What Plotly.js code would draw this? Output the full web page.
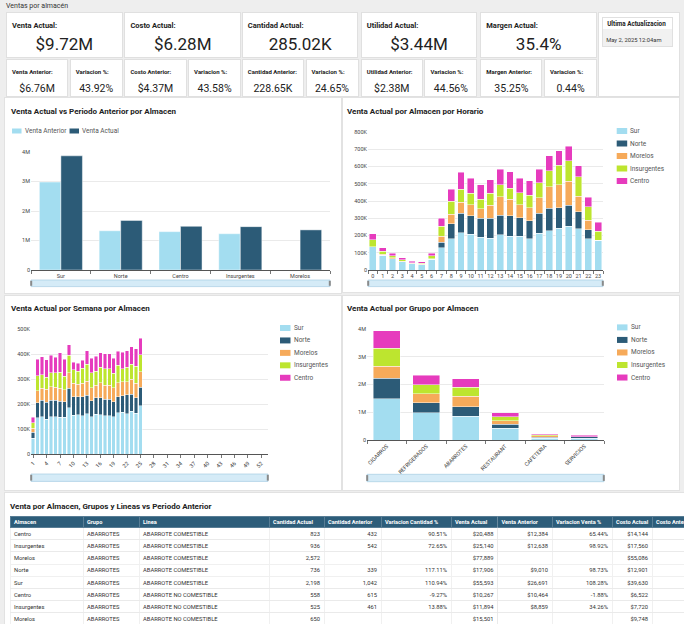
<!DOCTYPE html>
<html><head><meta charset="utf-8">
<script src="https://cdn.plot.ly/plotly-3.0.1.min.js"></script>
<style>
html,body{margin:0;padding:0;width:684px;height:624px;overflow:hidden;background:#eeeeee;font-family:Roboto,"Open Sans",sans-serif;color:#222;}
.card{position:absolute;background:#fff;border:1px solid #e0e0e0;box-sizing:border-box;}
.lbl{position:absolute;left:5px;font-weight:700;white-space:nowrap;color:#222;}
.val{position:absolute;left:0;right:0;text-align:center;white-space:nowrap;color:#222;}
.chart{position:absolute;background:#fff;box-shadow:0 0 0 1px #e2e2e2;}
</style></head><body>
<div id="page"></div>
<div id="c1" class="chart" style="left:5px;top:98px;width:336px;height:195px;"></div>
<div id="c2" class="chart" style="left:343px;top:98px;width:336px;height:194px;"></div>
<div id="c3" class="chart" style="left:5px;top:296px;width:336px;height:194px;"></div>
<div id="c4" class="chart" style="left:343px;top:296px;width:336px;height:194px;"></div>
<div class="chart" style="left:5px;top:493px;width:750px;height:135px;overflow:hidden;">
  <div id="c5" style="position:absolute;left:0;top:0;width:1500px;height:270px;transform:scale(0.5);transform-origin:0 0;"></div>
</div>
<script>
// ---------------- DATA ----------------
const pageTitle = 'Ventas por almacén';
const kpiLabels = ['Venta Actual:','Costo Actual:','Cantidad Actual:','Utilidad Actual:','Margen Actual:'];
const kpiValues = ['$9.72M','$6.28M','285.02K','$3.44M','35.4%'];
const prevLabels = ['Venta Anterior:','Costo Anterior:','Cantidad Anterior:','Utilidad Anterior:','Margen Anterior:'];
const prevValues = ['$6.76M','$4.37M','228.65K','$2.38M','35.25%'];
const varLabel = 'Variacion %:';
const varValues = ['43.92%','43.58%','24.65%','44.56%','0.44%'];
const updateLabel = 'Ultima Actualizacion';
const updateValue = 'May 2, 2025 12:04am';

const almacenes = ['Sur','Norte','Centro','Insurgentes','Morelos'];
const ventaAnterior = [2.98,1.33,1.30,1.23,null];   // M
const ventaActual   = [3.87,1.68,1.48,1.47,1.36];   // M
const yTicksM = [0,1,2,3,4];
const yTicksMText = ['0','1M','2M','3M','4M'];

const seriesNames = ['Sur','Norte','Morelos','Insurgentes','Centro'];

const hours = ['0','1','2','3','4','5','6','7','8','9','10','11','12','13','14','15','16','17','18','19','20','21','22','23'];
const horaSur         = [135,86,65,48,35,30,61,130,181,217,206,190,185,204,196,196,181,213,229,242,255,238,181,173];
const horaNorte       = [0,0,0,0,0,0,0,32,86,113,108,109,116,114,118,107,105,115,129,120,120,101,53,0];
const horaMorelos     = [0,5,5,4,3,4,3,34,57,64,65,57,74,107,96,76,76,91,124,131,139,90,54,0];
const horaInsurgentes = [40,18,12,8,4,6,18,57,76,75,67,54,69,70,64,69,70,86,93,115,120,112,78,53];
const horaCentro      = [35,20,16,12,8,8,15,48,69,97,87,85,80,88,96,83,84,80,88,82,84,63,57,51];
const yTicksHora = [0,100,200,300,400,500,600,700,800];
const yTicksHoraText = ['0','100K','200K','300K','400K','500K','600K','700K','800K'];

const semanas = [1,2,3,4,5,6,7,8,9,10,11,12,13,14,15,16,17,18,19,20,21,22,23,24,25];
const semSur         = [63,145,150,140,150,150,147,148,186,156,158,153,162,149,159,157,154,153,150,165,167,161,172,163,194];
const semNorte       = [24,61,66,68,66,66,65,62,78,74,71,76,74,64,66,69,66,66,60,65,66,77,68,63,73];
const semMorelos     = [16,48,47,52,53,51,51,47,62,53,50,54,56,52,51,59,56,57,55,55,56,51,59,58,63];
const semInsurgentes = [22,60,54,48,56,58,65,55,69,54,53,61,68,60,56,63,65,65,59,71,52,58,61,68,68];
const semCentro      = [23,65,72,69,70,62,78,68,43,31,32,31,54,58,60,58,60,61,60,55,66,67,69,70,66];
const semTickVals = [1,4,7,10,13,16,19,22,25,28,31,34,37,40,43,46,49,52];
const yTicksSem = [0,100,200,300,400,500];
const yTicksSemText = ['0','100K','200K','300K','400K','500K'];

const grupos = ['CIGARROS','REFRIGERADOS','ABARROTES','RESTAURANT','CAFETERIA','SERVICIOS'];
const grpSur         = [1.49,0.99,0.86,0.43,0.07,0.07];
const grpNorte       = [0.74,0.35,0.34,0.14,0.03,0.05];
const grpMorelos     = [0.43,0.33,0.38,0.12,0.05,0];
const grpInsurgentes = [0.65,0.33,0.32,0.15,0.04,0];
const grpCentro      = [0.63,0.33,0.30,0.14,0.04,0.05];

const tHeaders = ['Almacen','Grupo','Linea','Cantidad Actual','Cantidad Anterior','Variacion Cantidad %','Venta Actual','Venta Anterior','Variacion Venta %','Costo Actual','Costo Anterior'];
const tAlmacen = ['Centro','Insurgentes','Morelos','Norte','Sur','Centro','Insurgentes','Morelos'];
const tGrupo = ['ABARROTES','ABARROTES','ABARROTES','ABARROTES','ABARROTES','ABARROTES','ABARROTES','ABARROTES'];
const tLinea = ['ABARROTE COMESTIBLE','ABARROTE COMESTIBLE','ABARROTE COMESTIBLE','ABARROTE COMESTIBLE','ABARROTE COMESTIBLE','ABARROTE NO COMESTIBLE','ABARROTE NO COMESTIBLE','ABARROTE NO COMESTIBLE'];
const tCantActual = [823,936,2572,736,2198,558,525,650];
const tCantAnterior = [432,542,null,339,1042,615,461,null];
const tVarCant = [90.51,72.65,null,117.11,110.94,-9.27,13.88,null];
const tVentaActual = [20488,25140,77889,17906,55593,10267,11894,15501];
const tVentaAnterior = [12384,12638,null,9010,26691,10464,8859,null];
const tVarVenta = [65.44,98.92,null,98.73,108.28,-1.88,34.26,null];
const tCostoActual = [14144,17560,55086,12901,39630,6522,7720,9748];
const tCostoAnterior = [null,null,null,null,null,null,null,null];

// ---------------- STYLE ----------------
const FONT = 'Roboto, "Open Sans", sans-serif';
const COLORS = {Sur:'#a3ddf0', Norte:'#2c5b77', Morelos:'#f6aa5a', Insurgentes:'#bde52f', Centro:'#e63bbd'};
const BARLINE = {color:'rgba(255,255,255,0.75)', width:0.6};

// ---------------- KPI (HTML) ----------------
(function(){
  const page = document.getElementById('page');
  let h = '<div style="position:absolute;left:6px;top:1px;font-size:7px;line-height:10px;color:#333;">'+pageTitle+'</div>';
  const lefts = [6,124.4,241.8,360.7,480.3];
  const w = 116.7;
  lefts.forEach((L,i)=>{
    h += '<div class="card" style="left:'+L+'px;top:12px;width:'+w+'px;height:45.5px;">'+
         '<div class="lbl" style="top:7.5px;font-size:7.5px;line-height:9px;">'+kpiLabels[i]+'</div>'+
         '<div class="val" style="top:21px;font-size:17px;line-height:20px;">'+kpiValues[i]+'</div></div>';
    h += '<div class="card" style="left:'+L+'px;top:58.7px;width:62.2px;height:38px;">'+
         '<div class="lbl" style="top:8.6px;font-size:6px;line-height:8px;">'+prevLabels[i]+'</div>'+
         '<div class="val" style="top:23px;font-size:10.5px;line-height:12px;">'+prevValues[i]+'</div></div>';
    h += '<div class="card" style="left:'+(L+63.7)+'px;top:58.7px;width:'+(w-63.7)+'px;height:38px;">'+
         '<div class="lbl" style="top:8.6px;font-size:6px;line-height:8px;">'+varLabel+'</div>'+
         '<div class="val" style="top:23px;font-size:10.5px;line-height:12px;">'+varValues[i]+'</div></div>';
  });
  h += '<div class="card" style="left:597.7px;top:12px;width:82.3px;height:84.7px;">'+
       '<div style="position:absolute;left:3.5px;top:3.5px;width:70.7px;height:30.7px;border:1px solid #e0e0e0;box-sizing:border-box;background:#f1f1f1;">'+
       '<div style="position:absolute;left:0;top:0;right:0;height:11px;background:#fff;"></div>'+
       '<div style="position:absolute;left:4px;top:2px;font-size:6.3px;line-height:8px;font-weight:700;white-space:nowrap;">'+updateLabel+'</div>'+
       '<div style="position:absolute;left:3px;top:18px;font-size:5.8px;line-height:8px;white-space:nowrap;color:#333;">'+updateValue+'</div>'+
       '</div></div>';
  page.innerHTML = h;
})();

// ---------------- helpers ----------------
function decorate(spec){
  const W=spec.W, H=spec.H, m=spec.m;
  const pw = W-m.l-m.r, ph = H-m.t-m.b;
  const px = x => (x-m.l)/pw, py = y => 1-(y-m.t)/ph;
  const shapes=[], annotations=[];
  const lp = spec.legendPos;
  spec.legend.forEach((it,i)=>{
    const x = lp.xs ? lp.xs[i] : lp.x;
    const y = lp.xs ? lp.y : lp.y + i*lp.dy;
    shapes.push({type:'rect',xref:'paper',yref:'paper',x0:px(x),x1:px(x+lp.sw),y0:py(y+lp.sh/2),y1:py(y-lp.sh/2),
      fillcolor:it.color,line:{width:0},layer:'above'});
    annotations.push({xref:'paper',yref:'paper',x:px(x+lp.tx),y:py(y),xanchor:'left',yanchor:'middle',
      text:it.name,showarrow:false,borderpad:0,font:{family:FONT,size:6.5,color:'#555'}});
  });
  const o1=spec.slider[0], o2=spec.slider[1];
  shapes.push({type:'rect',xref:'paper',yref:'paper',ysizemode:'pixel',yanchor:0,x0:0,x1:1,y0:-o2,y1:-o1,
    fillcolor:'#d5ebf7',line:{color:'#a6cde3',width:0.7}});
  shapes.push({type:'rect',xref:'paper',yref:'paper',xsizemode:'pixel',xanchor:0,ysizemode:'pixel',yanchor:0,
    x0:-0.8,x1:1.2,y0:-o2+0.8,y1:-o1-0.8,fillcolor:'#8a8a8a',line:{width:0}});
  shapes.push({type:'rect',xref:'paper',yref:'paper',xsizemode:'pixel',xanchor:1,ysizemode:'pixel',yanchor:0,
    x0:-1.2,x1:0.8,y0:-o2+0.8,y1:-o1-0.8,fillcolor:'#8a8a8a',line:{width:0}});
  return {shapes, annotations};
}
function baseLayout(spec){
  const d = decorate(spec);
  return {
    width:spec.W, height:spec.H, margin:spec.m,
    paper_bgcolor:'#fff', plot_bgcolor:'#fff',
    font:{family:FONT, size:6, color:'#444'},
    title:{text:'<b>'+spec.title+'</b>', xref:'container', yref:'container', x:spec.tx/spec.W, y:1-spec.ty/spec.H,
      xanchor:'left', yanchor:'middle', font:{family:FONT,size:8,color:'#222'}},
    showlegend:false, hovermode:false,
    shapes:d.shapes, annotations:d.annotations
  };
}
const xAxisCat = {type:'category', showline:true, linecolor:'#555', linewidth:1, ticks:'outside', ticklen:3,
  tickcolor:'#555', tickwidth:0.8, tickson:'boundaries', showgrid:false, zeroline:false, tickangle:0,
  tickfont:{size:5.5,color:'#444'}, fixedrange:true};
function yAxis(range, vals, text){
  return {range:range, tickvals:vals, ticktext:text, showgrid:true, gridcolor:'#eaeaea', gridwidth:1, zeroline:false,
    showline:false, ticks:'', tickfont:{size:5.5,color:'#444'}, fixedrange:true};
}
const cfg = {staticPlot:true, displayModeBar:false};
function stacked(x, arrays){
  return seriesNames.map((n,i)=>({type:'bar', name:n, x:x, y:arrays[i], marker:{color:COLORS[n], line:BARLINE}}));
}
const legend5 = seriesNames.map(n=>({name:n,color:COLORS[n]}));

// ---------------- Chart 1 ----------------
(function(){
  const spec = {W:336,H:195,m:{l:25.7,r:10.7,t:53.7,b:23.3,pad:0},title:'Venta Actual vs Periodo Anterior por Almacen',tx:6,ty:13,
    legend:[{name:'Venta Anterior',color:'#a3ddf0'},{name:'Venta Actual',color:'#2c5b77'}],
    legendPos:{xs:[6.7,64.3],y:32.7,sw:9.5,sh:5,tx:11.5}, slider:[10,16.6]};
  const layout = baseLayout(spec);
  layout.barmode='group'; layout.bargap=0.28; layout.bargroupgap=0;
  layout.xaxis = Object.assign({}, xAxisCat);
  layout.yaxis = yAxis([0,4], yTicksM, yTicksMText);
  const traces = [
    {type:'bar', name:'Venta Anterior', x:almacenes, y:ventaAnterior, marker:{color:'#a3ddf0', line:BARLINE}},
    {type:'bar', name:'Venta Actual', x:almacenes, y:ventaActual, marker:{color:'#2c5b77', line:BARLINE}}
  ];
  Plotly.newPlot('c1', traces, layout, cfg);
})();

// ---------------- Chart 2 ----------------
(function(){
  const spec = {W:336,H:194,m:{l:25,r:76,t:33.7,b:22.3,pad:0},title:'Venta Actual por Almacen por Horario',tx:4,ty:13,
    legend:legend5, legendPos:{x:273.7,y:32.7,dy:12.5,sw:10.5,sh:6,tx:12.5}, slider:[10,16.6]};
  const layout = baseLayout(spec);
  layout.barmode='stack'; layout.bargap=0.3;
  layout.xaxis = Object.assign({}, xAxisCat);
  layout.yaxis = yAxis([0,800], yTicksHora, yTicksHoraText);
  Plotly.newPlot('c2', stacked(hours,[horaSur,horaNorte,horaMorelos,horaInsurgentes,horaCentro]), layout, cfg);
})();

// ---------------- Chart 3 ----------------
(function(){
  const spec = {W:336,H:194,m:{l:26,r:73,t:32.7,b:35.7,pad:0},title:'Venta Actual por Semana por Almacen',tx:6,ty:12.3,
    legend:legend5, legendPos:{x:275,y:31.7,dy:12.5,sw:10.5,sh:6,tx:12.5}, slider:[20,27.4]};
  const layout = baseLayout(spec);
  layout.barmode='stack'; layout.bargap=0.22;
  layout.xaxis = {type:'linear', range:[0.5,53.5], tickvals:semTickVals, showline:true, linecolor:'#555', linewidth:1,
    ticks:'outside', ticklen:3, tickcolor:'#555', tickwidth:0.8, tickangle:-45, showgrid:false, zeroline:false,
    tickfont:{size:5.5,color:'#444'}, fixedrange:true};
  layout.yaxis = yAxis([0,500], yTicksSem, yTicksSemText);
  Plotly.newPlot('c3', stacked(semanas,[semSur,semNorte,semMorelos,semInsurgentes,semCentro]), layout, cfg);
})();

// ---------------- Chart 4 ----------------
(function(){
  const spec = {W:336,H:194,m:{l:24,r:75,t:33.3,b:50,pad:0},title:'Venta Actual por Grupo por Almacen',tx:4,ty:12.3,
    legend:legend5, legendPos:{x:274,y:31.7,dy:12.5,sw:10.5,sh:6,tx:12.5}, slider:[34.3,41.7]};
  const layout = baseLayout(spec);
  layout.barmode='stack'; layout.bargap=0.31;
  layout.xaxis = Object.assign({}, xAxisCat, {tickangle:-45});
  layout.yaxis = yAxis([0,4], yTicksM, yTicksMText);
  Plotly.newPlot('c4', stacked(grupos,[grpSur,grpNorte,grpMorelos,grpInsurgentes,grpCentro]), layout, cfg);
})();

// ---------------- Table (drawn at 2x, displayed at 0.5 scale) ----------------
(function(){
  const S = 2;
  const nb = s => String(s).replace(/ /g,'\u00a0');
  const fInt = v => v==null ? '' : v.toLocaleString('en-US');
  const fMoney = v => v==null ? '' : '$'+v.toLocaleString('en-US');
  const fPct = v => v==null ? '' : v.toFixed(2)+'%';
  const cols = [
    tAlmacen.map(nb), tGrupo.map(nb), tLinea.map(nb),
    tCantActual.map(fInt), tCantAnterior.map(fInt), tVarCant.map(fPct),
    tVentaActual.map(fMoney), tVentaAnterior.map(fMoney), tVarVenta.map(fPct),
    tCostoActual.map(fMoney), tCostoAnterior.map(fMoney)
  ];
  const widths = [73,56,130,55,57,70,46.5,54.5,60,40,70].map(v=>v*S);
  const tw = widths.reduce((a,b)=>a+b,0);
  const align = ['left','left','left','right','right','right','right','right','right','right','right'];
  const trace = {type:'table', columnwidth:widths,
    header:{values:tHeaders.map(nb), align:'left', height:11.5*S,
      fill:{color:'#2d5d7a'}, line:{color:'#7593a6', width:1.2}, font:{family:FONT,size:5.6*S,color:'#fff',weight:700}},
    cells:{values:cols, align:align, height:12.2*S, fill:{color:'#fff'}, line:{color:'#e6e6e6', width:1.2},
      font:{family:FONT,size:5.8*S,color:'#333'}}};
  const W = 750*S, H = 135*S;
  const layout = {width:W, height:H, margin:{l:5*S,r:Math.max(0,W-5*S-tw),t:23*S,b:0,pad:0}, paper_bgcolor:'#fff',
    font:{family:FONT},
    title:{text:'<b>Venta por Almacen, Grupos y Lineas vs Periodo Anterior</b>', xref:'container', yref:'container',
      x:5/750, y:1-13.5/135, xanchor:'left', yanchor:'middle', font:{family:FONT,size:8*S,color:'#222'}}};
  Plotly.newPlot('c5', [trace], layout, cfg);
})();
</script>
</body></html>
